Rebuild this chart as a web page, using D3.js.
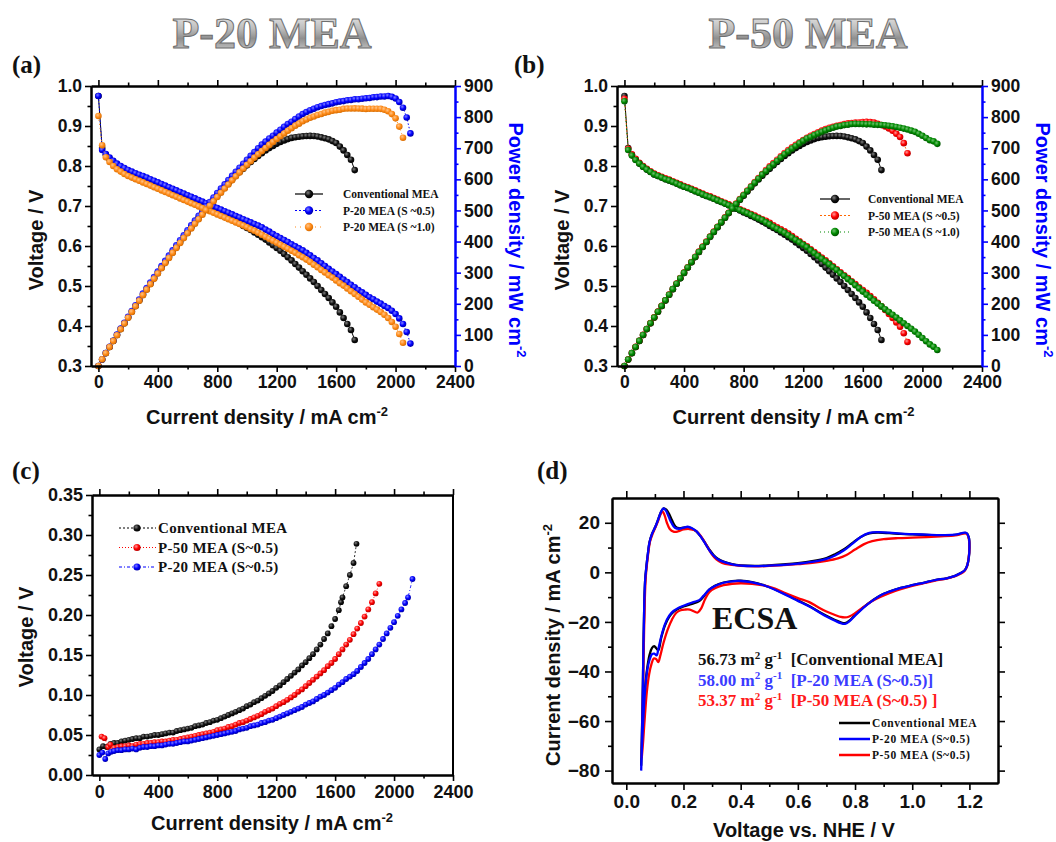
<!DOCTYPE html>
<html><head><meta charset="utf-8">
<script src="https://cdn.jsdelivr.net/npm/d3@7"></script>
<style>body{margin:0;background:#fff;}svg{display:block;}</style>
</head><body>
<svg id="chart" width="1056" height="842"></svg>
<script>
// ---------------- DATA ----------------
const currentGrid = [0,25,50,75,100,125,150,175,200,225,250,275,300,325,350,375,400,425,450,475,500,525,550,575,600,625,650,675,700,725,750,775,800,825,850,875,900,925,950,975,1000,1025,1050,1075,1100,1125,1150,1175,1200,1225,1250,1275,1300,1325,1350,1375,1400,1425,1450,1475,1500,1525,1550,1575,1600,1625,1650,1675,1700,1725,1750,1775,1800,1825,1850,1875,1900,1925,1950,1975,2000,2025,2050,2075,2100];
const voltConv = [0.975,0.845,0.828,0.816,0.806,0.798,0.791,0.785,0.779,0.775,0.771,0.767,0.764,0.760,0.756,0.752,0.748,0.745,0.741,0.737,0.733,0.729,0.725,0.722,0.718,0.714,0.710,0.706,0.702,0.698,0.693,0.689,0.684,0.680,0.675,0.671,0.666,0.661,0.656,0.650,0.645,0.640,0.634,0.628,0.622,0.616,0.609,0.602,0.595,0.588,0.580,0.572,0.564,0.555,0.546,0.537,0.528,0.519,0.510,0.500,0.490,0.480,0.470,0.459,0.448,0.434,0.420,0.405,0.390,0.365];
const voltP20s05 = [0.975,0.840,0.830,0.821,0.813,0.806,0.800,0.795,0.790,0.786,0.782,0.778,0.775,0.771,0.767,0.763,0.759,0.755,0.751,0.747,0.743,0.739,0.735,0.731,0.727,0.723,0.719,0.715,0.711,0.707,0.703,0.699,0.695,0.691,0.687,0.683,0.679,0.675,0.671,0.667,0.663,0.659,0.655,0.651,0.647,0.641,0.636,0.630,0.625,0.620,0.615,0.610,0.604,0.599,0.594,0.589,0.583,0.577,0.570,0.564,0.557,0.550,0.543,0.536,0.530,0.523,0.516,0.510,0.503,0.497,0.490,0.484,0.478,0.472,0.467,0.461,0.456,0.450,0.445,0.438,0.430,0.419,0.405,0.385,0.356];
const voltP20s10 = [0.925,0.852,0.822,0.810,0.800,0.792,0.786,0.780,0.775,0.771,0.767,0.763,0.759,0.755,0.751,0.747,0.743,0.739,0.735,0.731,0.727,0.723,0.719,0.715,0.711,0.707,0.703,0.699,0.695,0.691,0.687,0.683,0.679,0.675,0.671,0.667,0.663,0.659,0.655,0.651,0.647,0.642,0.638,0.633,0.628,0.623,0.618,0.613,0.608,0.603,0.598,0.593,0.588,0.583,0.577,0.572,0.566,0.560,0.553,0.547,0.540,0.534,0.527,0.521,0.514,0.507,0.501,0.494,0.487,0.480,0.473,0.466,0.459,0.453,0.447,0.441,0.435,0.428,0.420,0.410,0.398,0.380,0.358];
const voltP50s05 = [0.968,0.843,0.829,0.818,0.808,0.800,0.793,0.787,0.781,0.777,0.773,0.769,0.766,0.762,0.758,0.754,0.750,0.747,0.743,0.739,0.735,0.731,0.727,0.724,0.720,0.716,0.712,0.708,0.704,0.700,0.696,0.692,0.688,0.684,0.680,0.676,0.671,0.667,0.663,0.658,0.652,0.647,0.642,0.637,0.631,0.625,0.618,0.612,0.605,0.599,0.592,0.585,0.578,0.571,0.564,0.557,0.549,0.542,0.534,0.527,0.520,0.512,0.505,0.497,0.490,0.483,0.475,0.467,0.458,0.449,0.440,0.430,0.420,0.409,0.398,0.382,0.360];
const voltP50s10 = [0.962,0.840,0.826,0.815,0.806,0.798,0.791,0.785,0.779,0.775,0.771,0.767,0.764,0.760,0.756,0.752,0.748,0.745,0.741,0.737,0.733,0.729,0.725,0.722,0.718,0.714,0.710,0.706,0.702,0.698,0.694,0.690,0.686,0.682,0.678,0.673,0.669,0.665,0.659,0.654,0.648,0.643,0.638,0.633,0.627,0.621,0.615,0.609,0.603,0.597,0.589,0.582,0.575,0.568,0.561,0.554,0.547,0.540,0.532,0.525,0.517,0.510,0.502,0.494,0.486,0.478,0.471,0.463,0.456,0.449,0.442,0.435,0.428,0.421,0.414,0.407,0.400,0.393,0.386,0.378,0.370,0.362,0.354,0.348,0.340];

const lossConv = [[0,.032],[25,.036],[50,.035],[75,.039],[100,.040],[125,.040],[150,.042],[175,.043],[200,.044],[225,.045],[250,.046],[275,.046],[300,.048],[325,.048],[350,.049],[375,.050],[400,.050],[425,.051],[450,.052],[475,.053],[500,.053],[525,.055],[550,.056],[575,.057],[600,.058],[625,.059],[650,.061],[675,.062],[700,.063],[725,.065],[750,.066],[775,.068],[800,.069],[825,.071],[850,.073],[875,.075],[900,.077],[925,.079],[950,.081],[975,.083],[1000,.086],[1025,.088],[1050,.091],[1075,.093],[1100,.096],[1125,.099],[1150,.102],[1175,.105],[1200,.109],[1225,.112],[1250,.116],[1275,.120],[1300,.124],[1325,.128],[1350,.132],[1375,.137],[1400,.141],[1425,.146],[1450,.151],[1475,.157],[1500,.163],[1525,.170],[1550,.177],[1575,.186],[1600,.195],[1625,.206],[1640,.216],[1650,.222],[1675,.236],[1700,.250],[1725,.265],[1745,.289]];
const lossP50 = [[15,.048],[35,.046],[60,.035],[75,.038],[100,.034],[125,.035],[150,.036],[175,.036],[200,.037],[225,.036],[250,.038],[275,.039],[300,.039],[325,.040],[350,.040],[375,.041],[400,.041],[425,.042],[450,.042],[475,.043],[500,.044],[525,.044],[550,.045],[575,.046],[600,.047],[625,.048],[650,.049],[675,.050],[700,.051],[725,.052],[750,.053],[775,.054],[800,.056],[825,.057],[850,.058],[875,.060],[900,.061],[925,.063],[950,.065],[975,.066],[1000,.068],[1025,.070],[1050,.072],[1075,.074],[1100,.076],[1125,.079],[1150,.081],[1175,.083],[1200,.086],[1225,.089],[1250,.091],[1275,.094],[1300,.097],[1325,.100],[1350,.104],[1375,.107],[1400,.111],[1425,.115],[1450,.119],[1475,.123],[1500,.127],[1525,.131],[1550,.136],[1575,.140],[1600,.145],[1625,.151],[1650,.157],[1675,.163],[1700,.169],[1725,.176],[1750,.183],[1775,.190],[1800,.198],[1825,.207],[1850,.216],[1875,.227],[1900,.239]];
const lossP20 = [[0,.025],[20,.028],[40,.020],[60,.027],[80,.029],[100,.030],[125,.031],[150,.031],[175,.032],[200,.032],[225,.033],[250,.032],[275,.034],[300,.035],[325,.035],[350,.036],[375,.036],[400,.037],[425,.037],[450,.038],[475,.039],[500,.039],[525,.040],[550,.041],[575,.042],[600,.042],[625,.043],[650,.044],[675,.045],[700,.046],[725,.047],[750,.048],[775,.049],[800,.050],[825,.051],[850,.052],[875,.053],[900,.054],[925,.055],[950,.057],[975,.058],[1000,.059],[1025,.061],[1050,.062],[1075,.063],[1100,.065],[1125,.066],[1150,.068],[1175,.069],[1200,.071],[1225,.073],[1250,.075],[1275,.077],[1300,.079],[1325,.081],[1350,.083],[1375,.085],[1400,.088],[1425,.090],[1450,.092],[1475,.095],[1500,.098],[1525,.100],[1550,.103],[1575,.106],[1600,.109],[1625,.113],[1650,.116],[1675,.120],[1700,.123],[1725,.126],[1750,.130],[1775,.135],[1800,.140],[1825,.145],[1850,.151],[1875,.157],[1900,.163],[1925,.170],[1950,.177],[1975,.184],[2000,.191],[2025,.199],[2050,.207],[2075,.215],[2095,.222],[2125,.245]];

const cvConv = [[0.052,-78],[0.054,-68],[0.057,-52],[0.060,-30],[0.063,-12],[0.066,-3],[0.070,2],[0.075,7],[0.081,12],[0.090,15.5],[0.102,18.5],[0.112,21.5],[0.122,24.5],[0.131,25.8],[0.140,25.3],[0.150,23.5],[0.160,21],[0.172,18.5],[0.185,17.8],[0.200,18],[0.215,18.2],[0.230,17.6],[0.245,16.5],[0.260,14.5],[0.275,12],[0.290,9.3],[0.305,7],[0.320,5.5],[0.340,4.3],[0.370,3.3],[0.400,2.8],[0.450,2.6],[0.500,2.8],[0.550,3.2],[0.600,3.7],[0.650,4.5],[0.700,5.8],[0.730,7.3],[0.760,9.2],[0.790,11.8],[0.820,14.3],[0.850,15.7],[0.880,16],[0.920,15.8],[0.960,15.5],[1.000,15.3],[1.050,15.1],[1.100,14.9],[1.150,15.1],[1.190,15.8],[1.198,14],[1.200,10],[1.198,6],[1.193,3],[1.185,1],[1.170,-0.3],[1.150,-1.4],[1.120,-2.4],[1.080,-3.1],[1.040,-4.2],[1.000,-5.2],[0.960,-6.3],[0.920,-7.8],[0.890,-9.2],[0.860,-11.4],[0.830,-14],[0.800,-17.2],[0.780,-19.5],[0.765,-20.5],[0.750,-20.2],[0.730,-19.2],[0.700,-17.5],[0.670,-15.6],[0.640,-13.6],[0.600,-11.3],[0.560,-9],[0.520,-6.9],[0.480,-5.1],[0.440,-3.9],[0.400,-3.4],[0.370,-3.5],[0.340,-4.1],[0.310,-5.4],[0.290,-7],[0.270,-9.8],[0.255,-11.6],[0.235,-12.5],[0.215,-13.2],[0.200,-13.8],[0.185,-14.5],[0.165,-16],[0.150,-18],[0.135,-21.5],[0.122,-26.5],[0.112,-31.5],[0.104,-30.5],[0.098,-29.8],[0.090,-30.5],[0.082,-33],[0.074,-38],[0.066,-46],[0.060,-57],[0.055,-68],[0.052,-78]];
const cvP20 = [[0.052,-80],[0.054,-70],[0.057,-53],[0.060,-30],[0.063,-12],[0.066,-3],[0.070,2],[0.075,7],[0.081,12],[0.090,15.5],[0.102,18.5],[0.112,21.5],[0.122,24.5],[0.130,25.8],[0.138,25],[0.148,22.5],[0.158,20],[0.170,18],[0.185,17.6],[0.200,18],[0.215,18.4],[0.230,17.8],[0.245,16.6],[0.260,14.5],[0.275,11.8],[0.290,9],[0.305,6.8],[0.320,5.3],[0.340,4.2],[0.370,3.2],[0.400,2.7],[0.450,2.5],[0.500,2.7],[0.550,3.0],[0.600,3.5],[0.650,4.2],[0.700,5.4],[0.730,6.8],[0.760,8.8],[0.790,11.5],[0.820,14.3],[0.850,15.9],[0.880,16.2],[0.920,16.0],[0.960,15.6],[1.000,15.4],[1.050,15.2],[1.100,15.0],[1.150,15.2],[1.190,15.9],[1.198,14],[1.200,10],[1.198,6],[1.193,3],[1.185,1],[1.170,-0.3],[1.150,-1.4],[1.120,-2.4],[1.080,-3.1],[1.040,-4.2],[1.000,-5.2],[0.960,-6.3],[0.920,-7.8],[0.890,-9.2],[0.860,-11.5],[0.830,-14.2],[0.800,-17.5],[0.780,-19.8],[0.765,-20.8],[0.750,-20.5],[0.730,-19.5],[0.700,-17.8],[0.670,-15.8],[0.640,-13.8],[0.600,-11.5],[0.560,-9.2],[0.520,-7],[0.480,-5.2],[0.440,-4],[0.400,-3.5],[0.370,-3.6],[0.340,-4.2],[0.310,-5.5],[0.290,-7],[0.270,-9.5],[0.255,-11.2],[0.235,-12],[0.215,-12.8],[0.200,-13.5],[0.185,-14.2],[0.165,-15.6],[0.150,-17.5],[0.135,-21],[0.122,-26],[0.112,-31],[0.106,-33.5],[0.098,-32.8],[0.090,-33],[0.082,-35],[0.074,-39],[0.066,-47],[0.060,-58],[0.055,-70],[0.052,-80]];
const cvP50 = [[0.054,-75],[0.056,-65],[0.059,-45],[0.062,-25],[0.065,-10],[0.068,-2],[0.072,3],[0.077,8],[0.083,12.5],[0.092,15.5],[0.102,18.2],[0.112,21],[0.120,23.5],[0.127,24.6],[0.134,23],[0.142,20],[0.152,17.5],[0.165,16.4],[0.180,16.5],[0.200,17.3],[0.220,17.5],[0.240,17],[0.255,15.5],[0.270,13],[0.285,10],[0.300,7.2],[0.315,5.2],[0.335,3.8],[0.370,3.0],[0.400,2.6],[0.450,2.4],[0.500,2.6],[0.550,2.9],[0.600,3.3],[0.650,3.8],[0.700,4.6],[0.740,5.6],[0.770,7],[0.800,9.2],[0.830,11.3],[0.860,12.6],[0.900,13.4],[0.950,13.8],[1.000,14],[1.050,14.2],[1.100,14.5],[1.150,14.9],[1.190,15.6],[1.198,13.5],[1.200,9.5],[1.197,5.5],[1.192,2.5],[1.183,0.6],[1.168,-0.6],[1.150,-1.5],[1.120,-2.5],[1.080,-3.3],[1.040,-4.4],[1.000,-5.5],[0.960,-6.8],[0.920,-8.4],[0.890,-9.8],[0.860,-11.6],[0.830,-14],[0.800,-16.5],[0.780,-17.8],[0.765,-18.2],[0.750,-18],[0.730,-17.2],[0.700,-15.8],[0.670,-14],[0.640,-12],[0.600,-10.4],[0.560,-8.6],[0.520,-6.6],[0.480,-5.3],[0.440,-4.6],[0.400,-4.4],[0.370,-4.6],[0.340,-5.2],[0.310,-6.4],[0.290,-8],[0.275,-11],[0.262,-14.5],[0.250,-16.2],[0.238,-15.8],[0.222,-15],[0.205,-15],[0.190,-15.3],[0.175,-16.3],[0.160,-19],[0.145,-23],[0.130,-28.5],[0.118,-34],[0.112,-36.2],[0.104,-35],[0.096,-34.8],[0.088,-37],[0.080,-41],[0.072,-48],[0.065,-58],[0.059,-68],[0.054,-75]];

const pcXTicks = [0,400,800,1200,1600,2000,2400];
const pcXMinor = [200,600,1000,1400,1800,2200];
const pcVTicks = [0.3,0.4,0.5,0.6,0.7,0.8,0.9,1.0];
const pcVMinor = [0.35,0.45,0.55,0.65,0.75,0.85,0.95];
const pcPTicks = [0,100,200,300,400,500,600,700,800,900];
const pcPMinor = [50,150,250,350,450,550,650,750,850];
const cYTicks = [0,0.05,0.10,0.15,0.20,0.25,0.30,0.35];
const cYMinor = [0.025,0.075,0.125,0.175,0.225,0.275,0.325];
const dXTicks = [0,0.2,0.4,0.6,0.8,1.0,1.2];
const dXMinor = [0.1,0.3,0.5,0.7,0.9,1.1];
const dYTicks = [-80,-60,-40,-20,0,20];
const dYMinor = [-70,-50,-30,-10,10];
const ecsaValues = ["56.73","58.00","53.37"];

// ---------------- SETUP ----------------
const SANS = "'Liberation Sans', Arial, sans-serif";
const SERIF = "'Liberation Serif', 'Times New Roman', serif";
const svg = d3.select("#chart");
svg.append("rect").attr("width",1056).attr("height",842).attr("fill","#fff");
const defs = svg.append("defs");
function ball(id, light, mid, dark){
  const g = defs.append("radialGradient").attr("id",id).attr("cx","38%").attr("cy","35%").attr("r","65%");
  g.append("stop").attr("offset","0%").attr("stop-color",light);
  g.append("stop").attr("offset","55%").attr("stop-color",mid);
  g.append("stop").attr("offset","100%").attr("stop-color",dark);
}
ball("gBlack","#808080","#111","#000");
ball("gBlue","#8080ff","#0000ff","#0000a8");
ball("gOrange","#ffc488","#ff8c1a","#d96d00");
ball("gRed","#ff9a9a","#ff0000","#b80000");
ball("gGreen","#70c070","#008a00","#005200");
const tg = defs.append("linearGradient").attr("id","titleGrad").attr("x1",0).attr("y1",0).attr("x2",0).attr("y2",1);
[[0,"#f6f6f6"],[0.4,"#bdbdbd"],[0.6,"#8f8f8f"],[1,"#e4e4e4"]].forEach(s=>tg.append("stop").attr("offset",s[0]).attr("stop-color",s[1]));

function ax(g, gen, tx, ty, color, labels, fs){
  const a = g.append("g").attr("transform",`translate(${tx},${ty})`).call(gen);
  a.select(".domain").attr("stroke",color).attr("stroke-width",2);
  a.selectAll(".tick line").attr("stroke",color).attr("stroke-width",1.6);
  if(labels){ a.selectAll(".tick text").attr("fill","#111").attr("font-family",SANS).attr("font-weight","bold").attr("font-size",fs); }
  else a.selectAll(".tick text").remove();
  return a;
}
function supText(sel, parts, fs){
  let up = false;
  parts.forEach(p=>{
    const t = sel.append("tspan").text(p[0]);
    if(p[1] && !up){ t.attr("dy", -fs*0.38).attr("font-size", fs*0.65); up = true; }
    else if(p[1]) { t.attr("font-size", fs*0.65); }
    else if(!p[1] && up){ t.attr("dy", fs*0.38); up = false; }
  });
}
function title(x, y, rot, color, fs){
  return svg.append("text").attr("font-family",SANS).attr("font-weight","bold").attr("font-size",fs)
    .attr("fill",color).attr("text-anchor","middle")
    .attr("transform",`translate(${x},${y})${rot?` rotate(${rot})`:""}`);
}
const intFmt = d3.format("d");

// ---------------- HEADINGS ----------------
[["P-20 MEA",272],["P-50 MEA",808]].forEach(h=>{
  svg.append("text").attr("x",h[1]).attr("y",48).attr("text-anchor","middle")
    .attr("font-family",SERIF).attr("font-weight","bold").attr("font-size",44)
    .attr("fill","url(#titleGrad)").attr("stroke","#6e6e6e").attr("stroke-width",1).text(h[0]);
});
[["(a)",12,73],["(b)",514,73],["(c)",12,479],["(d)",537,479]].forEach(l=>{
  svg.append("text").attr("x",l[1]).attr("y",l[2]).attr("font-family",SERIF).attr("font-weight","bold")
    .attr("font-size",25).attr("fill","#111").text(l[0]);
});

// ---------------- PANELS (a) & (b) ----------------
function pcPanel(P, list, leg){
  const g = svg.append("g");
  const x = d3.scaleLinear().domain([-50,2400]).range([P.x0,P.x1]);
  const yl = d3.scaleLinear().domain([0.3,1.0]).range([P.y1,P.y0]);
  const yr = d3.scaleLinear().domain([0,900]).range([P.y1,P.y0]);
  list.forEach(s=>{
    const I = currentGrid.slice(0, s.v.length);
    const pv = I.map((c,i)=>[x(c), yl(s.v[i])]);
    const pp = I.map((c,i)=>[x(c), yr(c*s.v[i])]);   // power density = I x V
    [pv,pp].forEach(pts=>{
      g.append("path").attr("d", d3.line()(pts)).attr("fill","none").attr("stroke",s.color)
        .attr("stroke-width",1).attr("stroke-dasharray",s.dash);
      g.append("g").selectAll("circle").data(pts).join("circle")
        .attr("cx",d=>d[0]).attr("cy",d=>d[1]).attr("r",3.3).attr("fill",`url(#${s.grad})`);
    });
  });
  ax(g, d3.axisBottom(x).tickValues(pcXMinor).tickSize(3.5).tickSizeOuter(0).tickFormat(""), 0, P.y1, "#000", false);
  ax(g, d3.axisBottom(x).tickValues(pcXTicks).tickSize(6).tickSizeOuter(0).tickPadding(4).tickFormat(intFmt), 0, P.y1, "#000", true, 17.5);
  ax(g, d3.axisTop(x).tickValues(pcXMinor).tickSize(3.5).tickSizeOuter(0), 0, P.y0, "#000", false);
  ax(g, d3.axisTop(x).tickValues(pcXTicks).tickSize(6).tickSizeOuter(0), 0, P.y0, "#000", false);
  ax(g, d3.axisLeft(yl).tickValues(pcVMinor).tickSize(3.5).tickSizeOuter(0).tickFormat(""), P.x0, 0, "#000", false);
  ax(g, d3.axisLeft(yl).tickValues(pcVTicks).tickSize(6).tickSizeOuter(0).tickPadding(3).tickFormat(d3.format(".1f")), P.x0, 0, "#000", true, 17.5);
  ax(g, d3.axisRight(yr).tickValues(pcPMinor).tickSize(3.5).tickSizeOuter(0).tickFormat(""), P.x1, 0, "#0000ff", false);
  ax(g, d3.axisRight(yr).tickValues(pcPTicks).tickSize(6).tickSizeOuter(0).tickPadding(3), P.x1, 0, "#0000ff", true, 17.5);
  list.forEach((s,i)=>{
    const y = leg.y + i*leg.dy;
    g.append("line").attr("x1",leg.x0).attr("x2",leg.x1).attr("y1",y).attr("y2",y)
      .attr("stroke",s.color).attr("stroke-width",1.2).attr("stroke-dasharray",s.legDash);
    g.append("circle").attr("cx",(leg.x0+leg.x1)/2).attr("cy",y).attr("r",4.2).attr("fill",`url(#${s.grad})`);
    g.append("text").attr("x",leg.tx).attr("y",y+4).attr("font-family",SERIF).attr("font-weight","bold")
      .attr("font-size",11.5).attr("fill","#111").text(s.name);
  });
  supText(title((P.x0+P.x1)/2 - 6, 424, 0, "#111", 20), [["Current density / mA cm",false],["-2",true]], 20);
  title(P.x0-48, 240, -90, "#111", 20).text("Voltage / V");
  supText(title(P.x1+54, 240, 90, "#0000ff", 20), [["Power density / mW cm",false],["-2",true]], 20);
}
pcPanel({x0:91,x1:455,y0:86,y1:366}, [
  {name:"Conventional MEA", v:voltConv, color:"#000", grad:"gBlack", dash:null, legDash:null},
  {name:"P-20 MEA (S ~0.5)", v:voltP20s05, color:"#0000ff", grad:"gBlue", dash:"1.5,2", legDash:"2,2"},
  {name:"P-20 MEA (S ~1.0)", v:voltP20s10, color:"#ff8c1a", grad:"gOrange", dash:"1,3", legDash:"1,4"}
], {x0:295, x1:323, tx:343, y:194, dy:16.5});
pcPanel({x0:617,x1:982,y0:86,y1:366}, [
  {name:"Conventional MEA", v:voltConv, color:"#000", grad:"gBlack", dash:null, legDash:null},
  {name:"P-50 MEA (S ~0.5)", v:voltP50s05, color:"#ff6600", grad:"gRed", dash:"1.5,2", legDash:"2,2"},
  {name:"P-50 MEA (S ~1.0)", v:voltP50s10, color:"#008a00", grad:"gGreen", dash:"1,3", legDash:"1,3"}
], {x0:820, x1:850, tx:868, y:199, dy:16.5});

// ---------------- PANEL (c) ----------------
(function(){
  const P = {x0:92,x1:453,y0:495,y1:775};
  const g = svg.append("g");
  const x = d3.scaleLinear().domain([-50,2400]).range([P.x0,P.x1]);
  const y = d3.scaleLinear().domain([0,0.35]).range([P.y1,P.y0]);
  const series = [
    {name:"Conventional MEA", d:lossConv, color:"#000", grad:"gBlack", dash:"2,2"},
    {name:"P-50 MEA (S~0.5)", d:lossP50, color:"#ff0000", grad:"gRed", dash:"1,2"},
    {name:"P-20 MEA (S~0.5)", d:lossP20, color:"#0000ff", grad:"gBlue", dash:"3,2,1,2"}
  ];
  series.forEach(s=>{
    g.append("path").attr("d", d3.line().x(d=>x(d[0])).y(d=>y(d[1]))(s.d)).attr("fill","none")
      .attr("stroke",s.color).attr("stroke-width",0.8).attr("stroke-dasharray",s.dash);
    g.append("g").selectAll("circle").data(s.d).join("circle")
      .attr("cx",d=>x(d[0])).attr("cy",d=>y(d[1])).attr("r",2.9).attr("fill",`url(#${s.grad})`);
  });
  g.append("line").attr("x1",P.x1).attr("x2",P.x1).attr("y1",P.y0).attr("y2",P.y1).attr("stroke","#000").attr("stroke-width",2);
  ax(g, d3.axisBottom(x).tickValues(pcXMinor).tickSize(3.5).tickSizeOuter(0).tickFormat(""), 0, P.y1, "#000", false);
  ax(g, d3.axisBottom(x).tickValues(pcXTicks).tickSize(6).tickSizeOuter(0).tickPadding(4).tickFormat(intFmt), 0, P.y1, "#000", true, 18);
  ax(g, d3.axisTop(x).tickValues(pcXMinor).tickSize(3.5).tickSizeOuter(0), 0, P.y0, "#000", false);
  ax(g, d3.axisTop(x).tickValues(pcXTicks).tickSize(6).tickSizeOuter(0), 0, P.y0, "#000", false);
  ax(g, d3.axisLeft(y).tickValues(cYMinor).tickSize(3.5).tickSizeOuter(0).tickFormat(""), P.x0, 0, "#000", false);
  ax(g, d3.axisLeft(y).tickValues(cYTicks).tickSize(6).tickSizeOuter(0).tickPadding(3).tickFormat(d3.format(".2f")), P.x0, 0, "#000", true, 18);
  series.forEach((s,i)=>{
    const yy = 528 + i*19.5;
    g.append("line").attr("x1",119).attr("x2",156).attr("y1",yy).attr("y2",yy)
      .attr("stroke",s.color).attr("stroke-width",1).attr("stroke-dasharray",s.dash);
    g.append("circle").attr("cx",137).attr("cy",yy).attr("r",3.6).attr("fill",`url(#${s.grad})`);
    g.append("text").attr("x",158).attr("y",yy+5).attr("font-family",SERIF).attr("font-weight","bold")
      .attr("font-size",15).attr("letter-spacing",0.3).attr("fill","#111").text(s.name);
  });
  supText(title(272, 830, 0, "#111", 20), [["Current density / mA cm",false],["-2",true]], 20);
  title(33, 637, -90, "#111", 20).text("Voltage / V");
})();

// ---------------- PANEL (d) ----------------
(function(){
  const P = {x0:612,x1:998,y0:498,y1:783};
  const g = svg.append("g");
  const x = d3.scaleLinear().domain([-0.05,1.3]).range([P.x0,P.x1]);
  const y = d3.scaleLinear().domain([-85,30]).range([P.y1,P.y0]);
  const series = [
    {name:"Conventional MEA", d:cvConv, color:"#000000"},
    {name:"P-50 MEA (S~0.5)", d:cvP50, color:"#ff0000"},
    {name:"P-20 MEA (S~0.5)", d:cvP20, color:"#0000ff"}
  ];
  const line = d3.line().x(d=>x(d[0])).y(d=>y(d[1])).curve(d3.curveCatmullRom.alpha(0.5));
  series.forEach(s=>{
    g.append("path").attr("d", line(s.d)).attr("fill","none").attr("stroke",s.color).attr("stroke-width",2.3).attr("stroke-linejoin","round");
  });
  ax(g, d3.axisBottom(x).tickValues(dXMinor).tickSize(4).tickSizeOuter(0).tickFormat(""), 0, P.y1, "#000", false);
  ax(g, d3.axisBottom(x).tickValues(dXTicks).tickSize(7).tickSizeOuter(0).tickPadding(5).tickFormat(d3.format(".1f")), 0, P.y1, "#000", true, 19);
  ax(g, d3.axisTop(x).tickValues(dXMinor).tickSize(4).tickSizeOuter(0), 0, P.y0, "#000", false);
  ax(g, d3.axisTop(x).tickValues(dXTicks).tickSize(7).tickSizeOuter(0), 0, P.y0, "#000", false);
  ax(g, d3.axisLeft(y).tickValues(dYMinor).tickSize(4).tickSizeOuter(0).tickFormat(""), P.x0, 0, "#000", false);
  ax(g, d3.axisLeft(y).tickValues(dYTicks).tickSize(7).tickSizeOuter(0).tickPadding(5), P.x0, 0, "#000", true, 19);
  ax(g, d3.axisRight(y).tickValues(dYMinor).tickSize(4).tickSizeOuter(0), P.x1, 0, "#000", false);
  ax(g, d3.axisRight(y).tickValues(dYTicks).tickSize(7).tickSizeOuter(0), P.x1, 0, "#000", false);
  g.append("text").attr("x",712).attr("y",629).attr("font-family",SERIF).attr("font-weight","bold")
    .attr("font-size",32).attr("fill","#111").text("ECSA");
  const ecsaRows = [
    {v:ecsaValues[0], lab:"[Conventional MEA]", color:"#111"},
    {v:ecsaValues[1], lab:"[P-20 MEA (S~0.5)]", color:"#3b3bff"},
    {v:ecsaValues[2], lab:"[P-50 MEA (S~0.5) ]", color:"#ff1a1a"}
  ];
  ecsaRows.forEach((r,i)=>{
    const t = g.append("text").attr("x",698).attr("y",665+i*20.5).attr("font-family",SERIF).attr("font-weight","bold")
      .attr("font-size",17).attr("fill",r.color).attr("xml:space","preserve");
    supText(t, [[r.v+" m",false],["2",true],[" g",false],["-1",true],["  "+r.lab,false]], 17);
  });
  const legOrder = [series[0], series[2], series[1]];
  legOrder.forEach((s,i)=>{
    const yy = 723 + i*16;
    g.append("line").attr("x1",839).attr("x2",870).attr("y1",yy).attr("y2",yy).attr("stroke",s.color).attr("stroke-width",2.5);
    g.append("text").attr("x",872).attr("y",yy+4).attr("font-family",SERIF).attr("font-weight","bold")
      .attr("font-size",11.5).attr("letter-spacing",0.6).attr("fill","#111").text(s.name);
  });
  supText(title(560, 645, -90, "#111", 20), [["Current density / mA cm",false],["-2",true]], 20);
  title(804, 837, 0, "#111", 20).text("Voltage vs. NHE / V");
})();
</script>
</body></html>
